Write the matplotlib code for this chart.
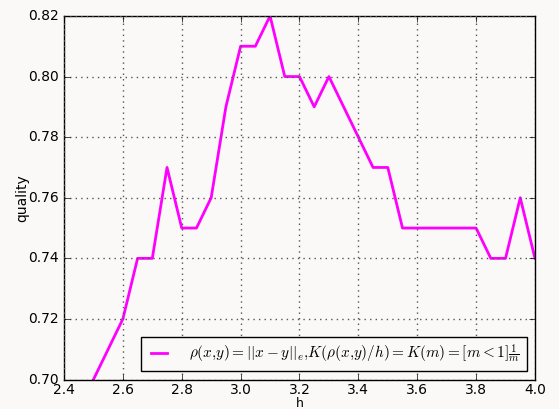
import matplotlib
matplotlib.use("Agg")
import matplotlib.pyplot as plt
import numpy as np

plt.style.use('classic')

h = [2.50, 2.55, 2.60, 2.65, 2.70, 2.75, 2.80, 2.85, 2.90, 2.95,
     3.00, 3.05, 3.10, 3.15, 3.20, 3.25, 3.30, 3.35, 3.40, 3.45,
     3.50, 3.55, 3.60, 3.65, 3.70, 3.75, 3.80, 3.85, 3.90, 3.95, 4.00]
quality = [0.70, 0.71, 0.72, 0.74, 0.74, 0.77, 0.75, 0.75, 0.76, 0.79,
           0.81, 0.81, 0.82, 0.80, 0.80, 0.79, 0.80, 0.79, 0.78, 0.77,
           0.77, 0.75, 0.75, 0.75, 0.75, 0.75, 0.75, 0.74, 0.74, 0.76, 0.74]
label = (r'$\rho(x{,}y)=||x-y||_e{,}K(\rho(x{,}y)/h)=K(m)=[m<1]\frac{1}{m}$')

bg = '#faf9f8'
fig = plt.figure(figsize=(5.59, 4.09), dpi=100, facecolor=bg)
ax = fig.add_axes([0.1145, 0.072, 0.8425, 0.889])
ax.set_facecolor(bg)
ax.plot(h, quality, color='magenta', lw=2, label=label)
ax.set_xlim(2.4, 4.0)
ax.set_ylim(0.70, 0.82)
ax.set_xticks(np.arange(2.4, 4.01, 0.2))
ax.set_yticks(np.arange(0.70, 0.821, 0.02))
ax.xaxis.set_major_formatter(matplotlib.ticker.FormatStrFormatter('%.1f'))
ax.yaxis.set_major_formatter(matplotlib.ticker.FormatStrFormatter('%.2f'))
ax.grid(True, color='#555555', linestyle=':', lw=1)
ax.tick_params(labelsize=10)
ax.tick_params(axis='x', pad=2.5)
ax.set_xlabel('h', fontsize=9, labelpad=0)
ax.set_ylabel('quality', fontsize=10, labelpad=-1)
leg = ax.legend(loc='lower right', fontsize=11, framealpha=1,
                handlelength=1.6, handletextpad=1.2, borderaxespad=0.55)
leg.get_frame().set_facecolor(bg)

fig.savefig('out.png', dpi=100, facecolor=bg)
